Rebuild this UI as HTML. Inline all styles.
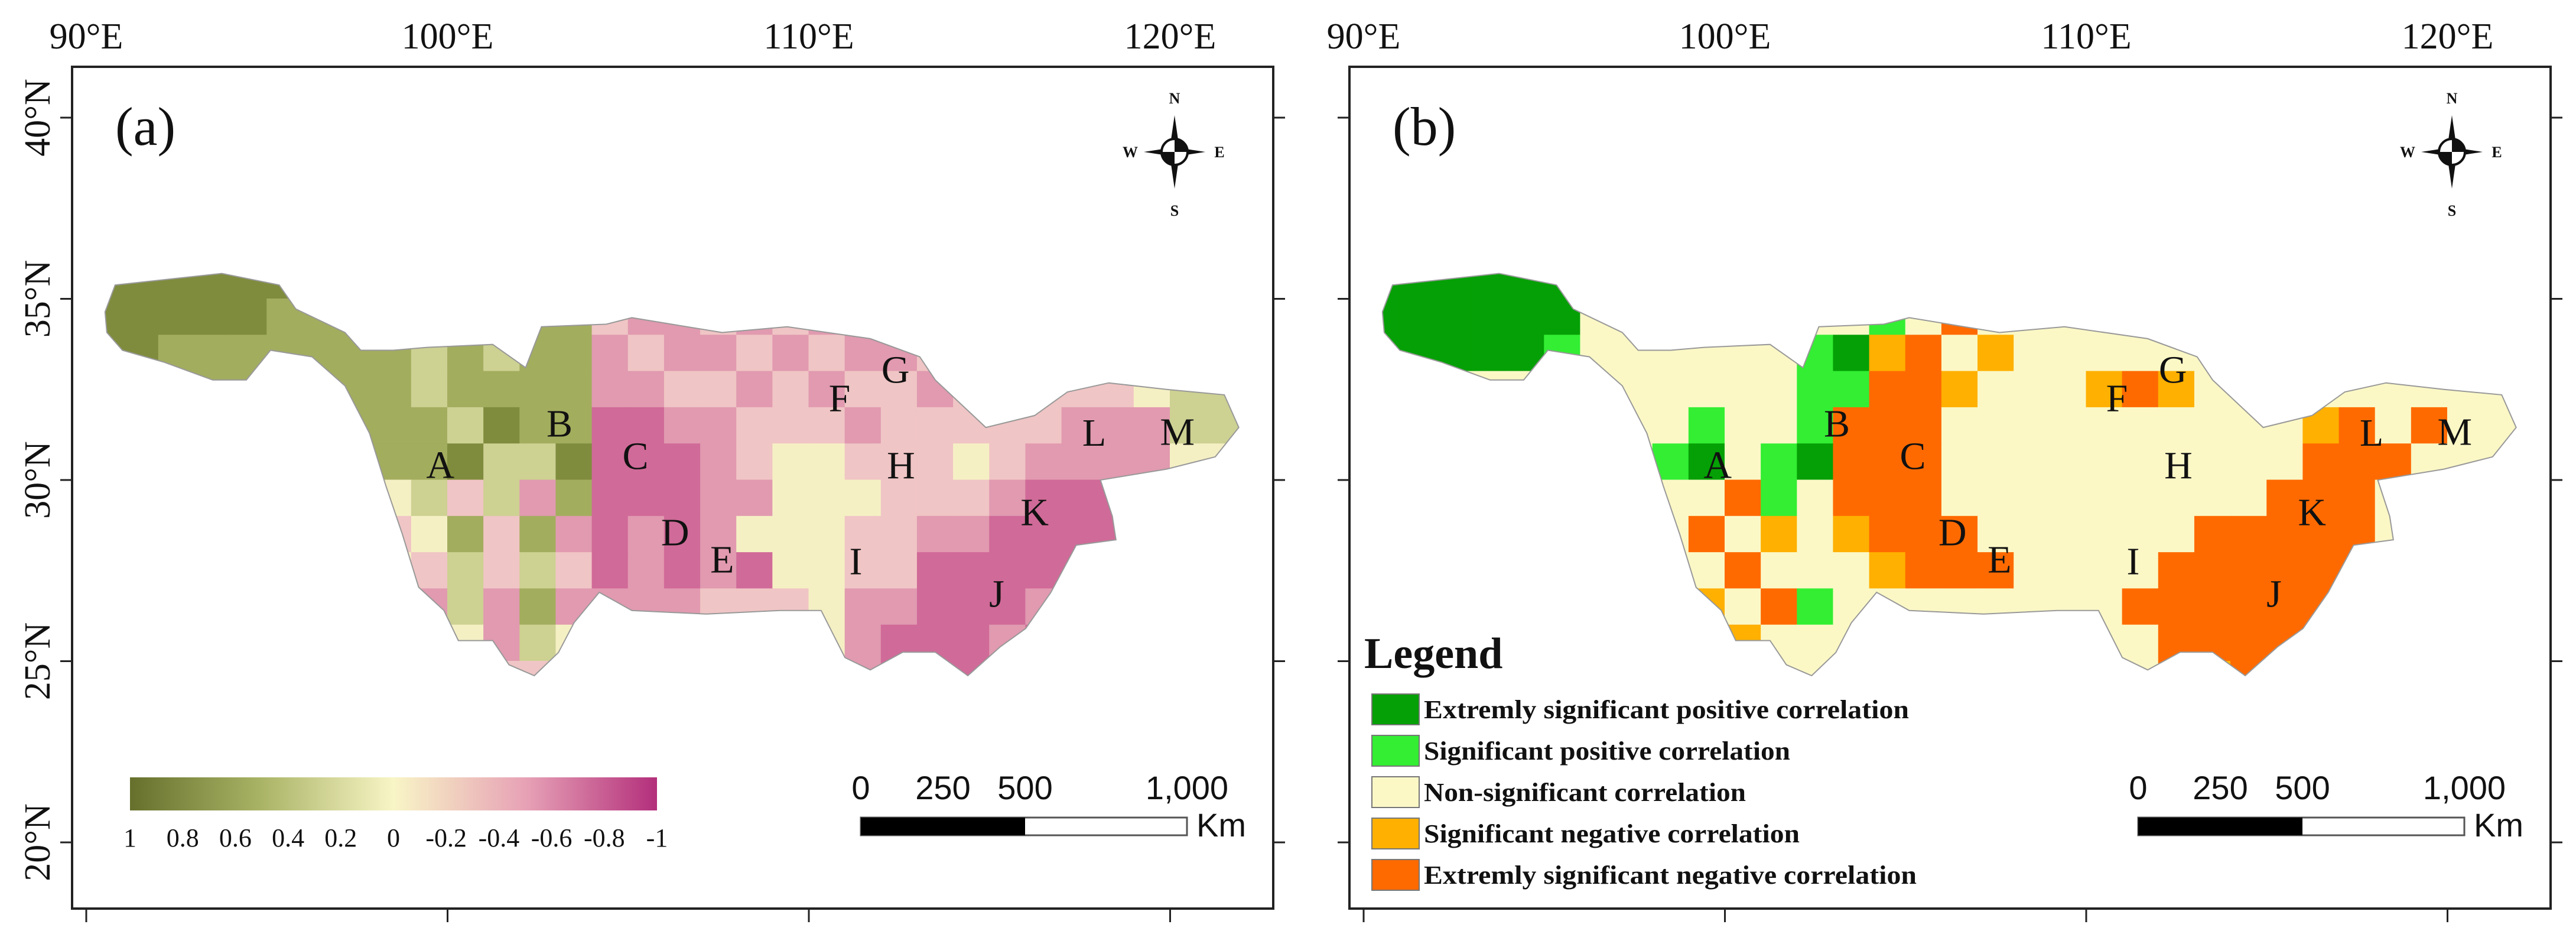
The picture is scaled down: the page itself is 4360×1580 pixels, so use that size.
<!DOCTYPE html>
<html><head><meta charset="utf-8">
<style>
html,body{margin:0;padding:0;background:#fff;}
svg{display:block;}
</style></head>
<body>
<svg id="fig" width="4360" height="1580" viewBox="0 0 4360 1580" xmlns="http://www.w3.org/2000/svg">
<defs>
<linearGradient id="cbar" x1="0" x2="1" y1="0" y2="0">
<stop offset="0" stop-color="#66702c"/><stop offset="0.25" stop-color="#aab466"/>
<stop offset="0.5" stop-color="#f8f5c6"/><stop offset="0.75" stop-color="#e7a2b6"/>
<stop offset="1" stop-color="#b32f7b"/></linearGradient>
</defs>
<g id="root"></g>
</svg>
<script>
// ---- data ----
const lonTicks = [90, 100, 110, 120];
const lonLabels = ["90°E", "100°E", "110°E", "120°E"];
const latTicks = [40, 35, 30, 25, 20];
const latLabels = ["40°N", "35°N", "30°N", "25°N", "20°N"];
const gridTopLat = 35;      // top row cell spans lat 35-36
const gridWestLon = 90;
// panel (a) correlation classes 0 (=1) .. 8 (=-1)
const rowsA = [
"11111122444444444444444444444444",
"11111222333322566565655444444444",
"11222222232322656656566544444444",
"22222222232222665565655655555433",
"22222222223122776655565555566633",
"22222222221331777654455545666644",
"44444444435362777664445556777444",
"44444444542526767644455667777444",
"44444444453535767674455777777444",
"44444444463626666555466777677444",
"44444444454634444444467776777444",
"44444444444556444444467777744444"];
// panel (b) classes: P extremely pos, p sig pos, n non-sig, q sig neg, Q extremely neg
const rowsB = [
"PPPPPPPnnnnnnnnnnnnnnnnnnnnnnnnn",
"PPPPPPnnnnnnnnpnQnnnnnnnnnnnnnnn",
"PPPPPpnnnnnnpPqQnqnnnnnnnnnnnnnn",
"nnnnnnnnnnnnppQQqnnnqQqnnnnnnnnn",
"nnnnnnnnnpnnpQQQnnnnnnnnnnqQnQnn",
"nnnnnnnnpPnpPQQQnnnnnnnnnnQQQnnn",
"nnnnnnnnnnQpnQQQnnnnnnnnnQQQnnnn",
"nnnnnnnnnQnqnqQQQnnnnnnQQQQQnnnn",
"nnnnnnnnnnQnnnqQQQnnnnQQQQQQnnnn",
"nnnnnnnnnqnQpnnnnnnnnQQQQQQnnnnn",
"nnnnnnnnnnqnnnnnnnnnnnQQQQQnnnnn",
"nnnnnnnnnnnnnnnnnnnnnnQqQQnnnnnn"];
const colorsA = ["#5d6b2a","#7f8c3d","#a3ad5e","#cdd192","#f5f0c4","#f0c5c5","#e19ab0","#d06a98","#b83a7e"];
const colorsB = {P:"#05a005", p:"#33ee33", n:"#fbf8c6", q:"#ffb000", Q:"#ff6a00"};
const cbLabels = ["1","0.8","0.6","0.4","0.2","0","-0.2","-0.4","-0.6","-0.8","-1"];
const siteNames = ["A","B","C","D","E","F","G","H","I","J","K","L","M"];
const siteLon = [99.8,103.1,105.2,106.3,107.6,110.85,112.4,112.55,111.3,115.2,116.25,117.9,120.2];
const siteLat = [30.06,31.2,30.3,28.2,27.45,31.9,32.68,30.05,27.4,26.5,28.75,30.95,30.97];
const legendLabels = ["Extremly significant positive correlation","Significant positive correlation","Non-significant correlation","Significant negative correlation","Extremly significant negative correlation"];
const legendKeys = ["P","p","n","q","Q"];
const outline = [[90.52,34.64],[90.8,35.38],[93.75,35.7],[95.34,35.38],[95.8,34.72],[97.16,34.07],[97.6,33.58],[98.5,33.58],[99.43,33.66],[101.25,33.74],[102.16,33.1],[102.6,34.23],[104.4,34.3],[105.1,34.48],[107.6,34.07],[109.4,34.23],[111.7,33.9],[113.07,33.4],[113.5,32.76],[114.9,31.45],[116.25,31.78],[117.16,32.43],[118.3,32.68],[119.9,32.5],[121.5,32.35],[121.9,31.45],[121.25,30.64],[119.9,30.3],[118.07,30],[118.4,29],[118.5,28.35],[117.4,28.2],[116.7,26.9],[116.0,25.9],[115.3,25.4],[114.4,24.6],[113.5,25.25],[112.6,25.25],[111.7,24.76],[111.0,25.1],[110.34,26.4],[109.2,26.4],[107.16,26.3],[105.1,26.4],[104.2,26.9],[103.5,26.06],[103.07,25.24],[102.4,24.6],[101.7,24.9],[101.25,25.57],[100.3,25.57],[99.9,26.4],[99.2,27.04],[98.75,28.5],[98.3,29.82],[97.84,31.29],[97.16,32.6],[96.25,33.4],[95.1,33.58],[94.43,32.76],[93.5,32.76],[92.16,33.25],[91.0,33.58],[90.57,34.07]];

// ---- drawing ----
const NS = "http://www.w3.org/2000/svg";
const root = document.getElementById("root");
function mk(tag, attrs, parent, text){
  const e = document.createElementNS(NS, tag);
  for (const k in attrs) e.setAttribute(k, attrs[k]);
  if (text !== undefined) e.textContent = text;
  (parent || root).appendChild(e);
  return e;
}
const PX = 61.15, PY = 61.3;
function X(lon, dx){ return 146 + (lon - 90) * PX + dx; }
function Y(lat){ return 199 + (40 - lat) * PY; }

function panel(dx, id, isA){
  const g = mk("g", {});
  
  
  const fr = mk("rect", {x:122+dx, y:113, width:2033, height:1424, fill:"#fff", stroke:"#222", "stroke-width":4}, g);
  
  
  lonTicks.forEach((lon, i) => {
    const x = X(lon, dx);
    const t = mk("line", {x1:x, x2:x, y1:1537, y2:1560, stroke:"#222", "stroke-width":3}, g);
    
    
    const lb = mk("text", {x:x, y:82, "font-family":"Liberation Serif, serif", "font-size":62, "text-anchor":"middle", fill:"#111"}, g, lonLabels[i]);
    
    
  });
  latTicks.forEach((lat, i) => {
    const y = Y(lat);
    const t = mk("line", {x1:2155+dx, x2:2175+dx, y1:y, y2:y, stroke:"#222", "stroke-width":3}, g);
    
    
    const t2 = mk("line", {x1:102+dx, x2:122+dx, y1:y, y2:y, stroke:"#222", "stroke-width":3}, g);
    
    
    if (isA){
      const lb = mk("text", {x:0, y:0, transform:`translate(84 ${y}) rotate(-90)`, "font-family":"Liberation Serif, serif", "font-size":62, "text-anchor":"middle", fill:"#111"}, g, latLabels[i]);
      
      
    }
  });
  const cp = mk("clipPath", {id:"clip-" + id}, g);
  mk("polygon", {points: outline.map(p => X(p[0],dx).toFixed(1)+","+Y(p[1]).toFixed(1)).join(" ")}, cp);
  const cells = mk("g", {"clip-path":`url(#clip-${id})`}, g);
  
  
  const rows = isA ? rowsA : rowsB;
  rows.forEach((row, r) => {
    const lat = gridTopLat - r;
    for (let c = 0; c < row.length; c++){
      const ch = row[c];
      const fill = isA ? colorsA[+ch] : colorsB[ch];
      const lon = gridWestLon + c;
      const cell = mk("rect", {x:X(lon,dx)-0.5, y:Y(lat+1)-0.5, width:PX+1, height:PY+1, fill:fill}, cells);
      
      
    }
  });
  const ol = mk("polygon", {points: outline.map(p => X(p[0],dx).toFixed(1)+","+Y(p[1]).toFixed(1)).join(" "), fill:"none", stroke:"#999", "stroke-width":2}, g);
  
  
  siteNames.forEach((s, i) => {
    const t = mk("text", {x:X(siteLon[i],dx), y:Y(siteLat[i]), "font-family":"Liberation Serif, serif", "font-size":66, "text-anchor":"middle", fill:"#111"}, g, s);
    
    
  });
  const tag = mk("text", {x:195+dx, y:245, "font-family":"Liberation Serif, serif", "font-size":92, fill:"#111"}, g, isA ? "(a)" : "(b)");
  
  
  const cx = 1988+dx, cy = 257;
  const cg = mk("g", {}, g);
  
  
  mk("polygon", {points:`${cx},${cy-62} ${cx+9},${cy} ${cx},${cy+62} ${cx-9},${cy}`, fill:"#111"}, cg);
  mk("polygon", {points:`${cx-52},${cy} ${cx},${cy-8} ${cx+52},${cy} ${cx},${cy+8}`, fill:"#111"}, cg);
  mk("circle", {cx:cx, cy:cy, r:22, fill:"#fff", stroke:"#111", "stroke-width":4}, cg);
  mk("path", {d:`M${cx} ${cy-22} A22 22 0 0 1 ${cx+22} ${cy} L${cx} ${cy} Z M${cx} ${cy+22} A22 22 0 0 1 ${cx-22} ${cy} L${cx} ${cy} Z`, fill:"#111"}, cg);
  [["N",cx,cy-82],["S",cx,cy+108],["W",cx-75,cy+9],["E",cx+76,cy+9]].forEach(a => {
    mk("text", {x:a[1], y:a[2], "font-family":"Liberation Serif, serif", "font-size":26, "font-weight":"bold", "text-anchor":"middle", fill:"#111"}, cg, a[0]);
  });
  const sx = 1457+dx;
  const sg = mk("g", {}, g);
  
  
  mk("rect", {x:sx, y:1383, width:552, height:30, fill:"#fff", stroke:"#555", "stroke-width":3}, sg);
  mk("rect", {x:sx, y:1383, width:278, height:30, fill:"#000"}, sg);
  [["0",0],["250",139],["500",278],["1,000",552]].forEach(a => {
    mk("text", {x:sx+a[1], y:1352, "font-family":"Liberation Sans, sans-serif", "font-size":56, "text-anchor":"middle", fill:"#111"}, sg, a[0]);
  });
  mk("text", {x:sx+568, y:1415, "font-family":"Liberation Sans, sans-serif", "font-size":56, fill:"#111"}, sg, "Km");
}

panel(0, "a", true);
panel(2162, "b", false);

const cb = mk("rect", {x:220, y:1315, width:892, height:56, fill:"url(#cbar)"});


cbLabels.forEach((l, i) => {
  const t = mk("text", {x:220 + i*892/10, y:1432, "font-family":"Liberation Serif, serif", "font-size":44, "text-anchor":"middle", fill:"#111"}, root, l);
  
  
});

const lg = mk("g", {});


mk("text", {x:2309, y:1130, "font-family":"Liberation Serif, serif", "font-size":74, "font-weight":"bold", fill:"#111"}, lg, "Legend");
const legWidths = [835, 634, 559, 650, 848];
legendLabels.forEach((l, i) => {
  const y = 1200 + i*70;
  const e = mk("g", {}, lg);
  
  
  mk("rect", {x:2322, y:y-26, width:80, height:52, fill:colorsB[legendKeys[i]], stroke:"#777", "stroke-width":2}, e);
  mk("text", {x:2410, y:y+15, "font-family":"Liberation Serif, serif", "font-size":44, "font-weight":"bold", textLength:legWidths[i]-14, lengthAdjust:"spacingAndGlyphs", fill:"#111"}, e, l);
});
</script>
</body></html>
